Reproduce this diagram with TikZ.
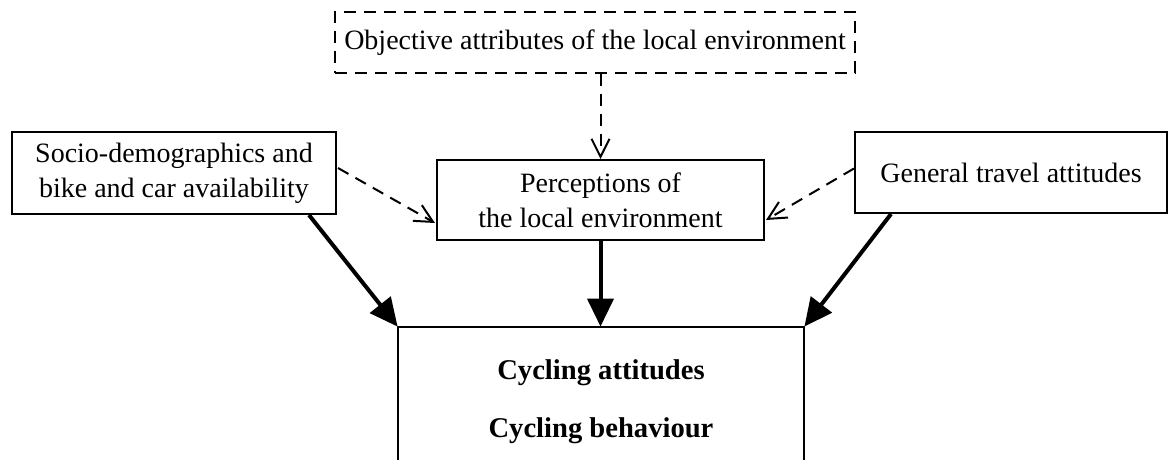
\documentclass[tikz,border=0pt]{standalone}
\usepackage{fontspec}
\setmainfont{Liberation Serif}
\usepackage{tikz}
\usetikzlibrary{arrows.meta}
\usetikzlibrary{calc}
\tikzset{
 box/.style={draw, line width=1pt, align=center, inner sep=0pt,
   font=\fontsize{14pt}{17.5pt}\selectfont},
 dbox/.style={box, dashed, dash pattern=on 6pt off 4pt},
 darrow/.style={line width=1pt, dash pattern=on 6pt off 4pt, -{Straight Barb[length=9pt,width=9pt]}},
 sarrow/.style={line width=2pt, -{Triangle[length=14pt,width=13pt]}}
}

\begin{document}
\begin{tikzpicture}[x=0.5pt,y=-0.5pt]
\useasboundingbox (0,0) rectangle (1173,460);
\node[dbox, minimum width=260pt, minimum height=30.5pt] (obj) at (595,42.5)
  {Objective attributes of the local environment};
\node[box, minimum width=163.5pt, minimum height=40pt] (perc) at (600.5,200)
  {Perceptions of\\the local environment};
\node[box, minimum width=162pt, minimum height=41pt] (socio) at (174,173)
  {Socio-demographics and\\bike and car availability};
\node[box, minimum width=156pt, minimum height=40.5pt] (gen) at (1011,172.5)
  {General travel attitudes};
\node[inner sep=0pt, minimum width=203pt, minimum height=66.5pt] (cyc) at (601,393.5) {};
\draw[line width=1pt] (cyc.south west) -- (cyc.north west) -- (cyc.north east) -- (cyc.south east);
\node[align=center, font=\fontsize{14.3pt}{17pt}\selectfont\bfseries] (cyctext) at (601,402)
  {Cycling attitudes\\[12pt]Cycling behaviour};

\draw[darrow] (perc.north |- obj.south) -- (perc.north);
\draw[darrow] ($(socio.east)+(1,-5)$) -- ($(perc.west)+(-1,23)$);
\draw[darrow] ($(gen.west)+(0,-4)$) -- ($(perc.east)+(1,20)$);
\draw[sarrow] ($(socio.south east)+(-28,0)$) -- (cyc.north west);
\draw[sarrow] (perc.south) -- (perc.south |- cyc.north);
\draw[sarrow] ($(gen.south west)+(37,0)$) -- (cyc.north east);
\end{tikzpicture}
\end{document}
